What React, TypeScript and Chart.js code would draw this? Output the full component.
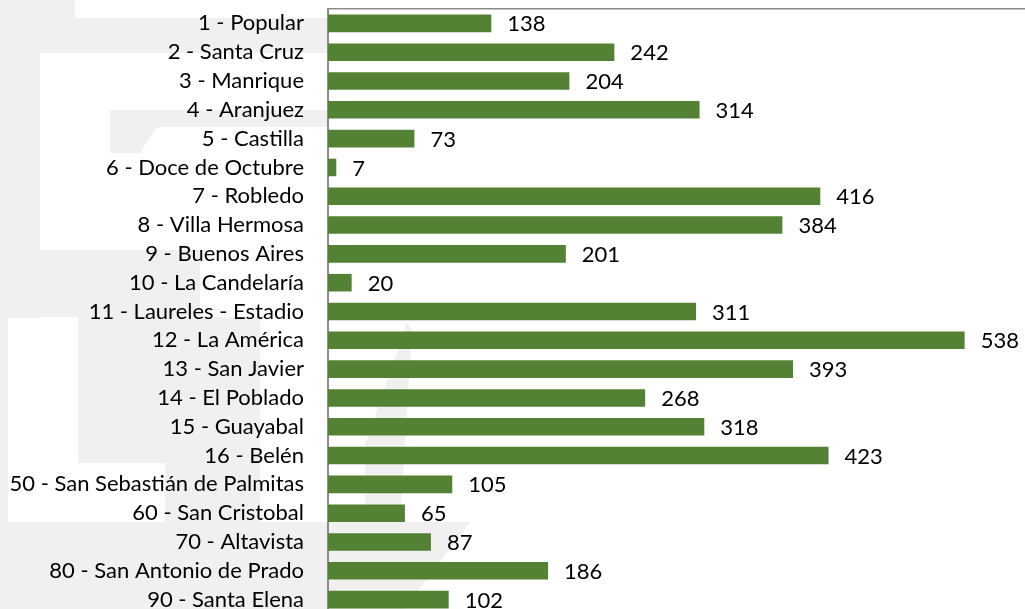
import React, { useEffect, useRef } from "react";
import { Chart, registerables } from "chart.js";

Chart.register(...registerables);

const categories = [
  "1 - Popular",
  "2 - Santa Cruz",
  "3 - Manrique",
  "4 - Aranjuez",
  "5 - Castilla",
  "6 - Doce de Octubre",
  "7 - Robledo",
  "8 - Villa Hermosa",
  "9 - Buenos Aires",
  "10 - La Candelaría",
  "11 - Laureles - Estadio",
  "12 - La América",
  "13 - San Javier",
  "14 - El Poblado",
  "15 - Guayabal",
  "16 - Belén",
  "50 - San Sebastián de Palmitas",
  "60 - San Cristobal",
  "70 - Altavista",
  "80 - San Antonio de Prado",
  "90 - Santa Elena",
];

const values = [138, 242, 204, 314, 73, 7, 416, 384, 201, 20, 311, 538, 393, 268, 318, 423, 105, 65, 87, 186, 102];

const BAR_COLOR = "#548235";
const AXIS_COLOR = "#8c8c8c";
const WATERMARK = "#f0f0f0";
const FONT = "Lato";

const watermarkPlugin = {
  id: "watermark",
  beforeDraw(chart: any) {
    const ctx = chart.ctx;
    ctx.save();
    ctx.fillStyle = "#ffffff";
    ctx.fillRect(0, 0, chart.width, chart.height);
    ctx.fillStyle = WATERMARK;
    const polys: number[][][] = [
      [[0, 0], [40, 0], [40, 318], [0, 318]],
      [[0, 0], [8, 0], [8, 614], [0, 614]],
      [[40, 0], [75, 0], [75, 18], [40, 18]],
      [[40, 18], [328, 18], [328, 53], [40, 53]],
      [[110, 110], [328, 110], [328, 127], [157, 127], [140, 153], [110, 153]],
      [[0, 250], [200, 250], [200, 317], [0, 317]],
      [[78, 317], [260, 317], [260, 463], [78, 463]],
      [[165, 463], [260, 463], [260, 522], [165, 522]],
      [[0, 522], [328, 522], [328, 614], [0, 614]],
      [[328, 522], [470, 522], [400, 614], [328, 614]],
      [[365, 445], [407, 323], [412, 330], [400, 522], [365, 522]],
    ];
    polys.forEach((p) => {
      ctx.beginPath();
      ctx.moveTo(p[0][0], p[0][1]);
      for (let i = 1; i < p.length; i++) ctx.lineTo(p[i][0], p[i][1]);
      ctx.closePath();
      ctx.fill();
    });
    ctx.restore();
  },
};

const valueLabelPlugin = {
  id: "valueLabels",
  afterDatasetsDraw(chart: any) {
    const ctx = chart.ctx;
    const meta = chart.getDatasetMeta(0);
    ctx.save();
    ctx.font = `22px ${FONT}`;
    ctx.fillStyle = "#000000";
    ctx.textAlign = "left";
    ctx.textBaseline = "middle";
    meta.data.forEach((bar: any, i: number) => {
      ctx.fillText(String(values[i]), bar.x + 16, bar.y + 1);
    });
    ctx.restore();
  },
};

export default function App() {
  const ref = useRef<HTMLCanvasElement>(null);

  useEffect(() => {
    const chart = new Chart(ref.current as HTMLCanvasElement, {
      type: "bar",
      data: {
        labels: categories,
        datasets: [
          {
            data: values,
            backgroundColor: BAR_COLOR,
            borderWidth: 0,
            barPercentage: 0.61,
            categoryPercentage: 1,
          },
        ],
      },
      options: {
        indexAxis: "y",
        responsive: false,
        animation: false,
        layout: { padding: { left: 0, right: 22, top: 0, bottom: 0 } },
        plugins: {
          legend: { display: false },
          tooltip: { enabled: false },
        },
        scales: {
          x: {
            position: "top",
            min: 0,
            max: 600,
            ticks: { display: false },
            grid: { display: false, drawTicks: false },
            border: { display: true, color: AXIS_COLOR, width: 1.5 },
            afterFit: (s: any) => {
              s.height = 9;
              s.paddingLeft = 0;
              s.paddingRight = 0;
            },
          },
          y: {
            ticks: {
              color: "#000000",
              font: { family: FONT, size: 22 },
              padding: 24,
              autoSkip: false,
            },
            grid: { display: false, drawTicks: false },
            border: { display: true, color: AXIS_COLOR, width: 2 },
            afterFit: (s: any) => {
              s.width = 328;
              s.paddingTop = 0;
              s.paddingBottom = 0;
            },
          },
        },
      } as any,
      plugins: [watermarkPlugin, valueLabelPlugin],
    });
    return () => chart.destroy();
  }, []);

  return (
    <div
      style={{
        position: "fixed",
        left: 0,
        top: 0,
        width: 1025,
        height: 609,
        overflow: "hidden",
        background: "#ffffff",
      }}
    >
      <canvas ref={ref} width={1060} height={614} style={{ display: "block" }} />
    </div>
  );
}
